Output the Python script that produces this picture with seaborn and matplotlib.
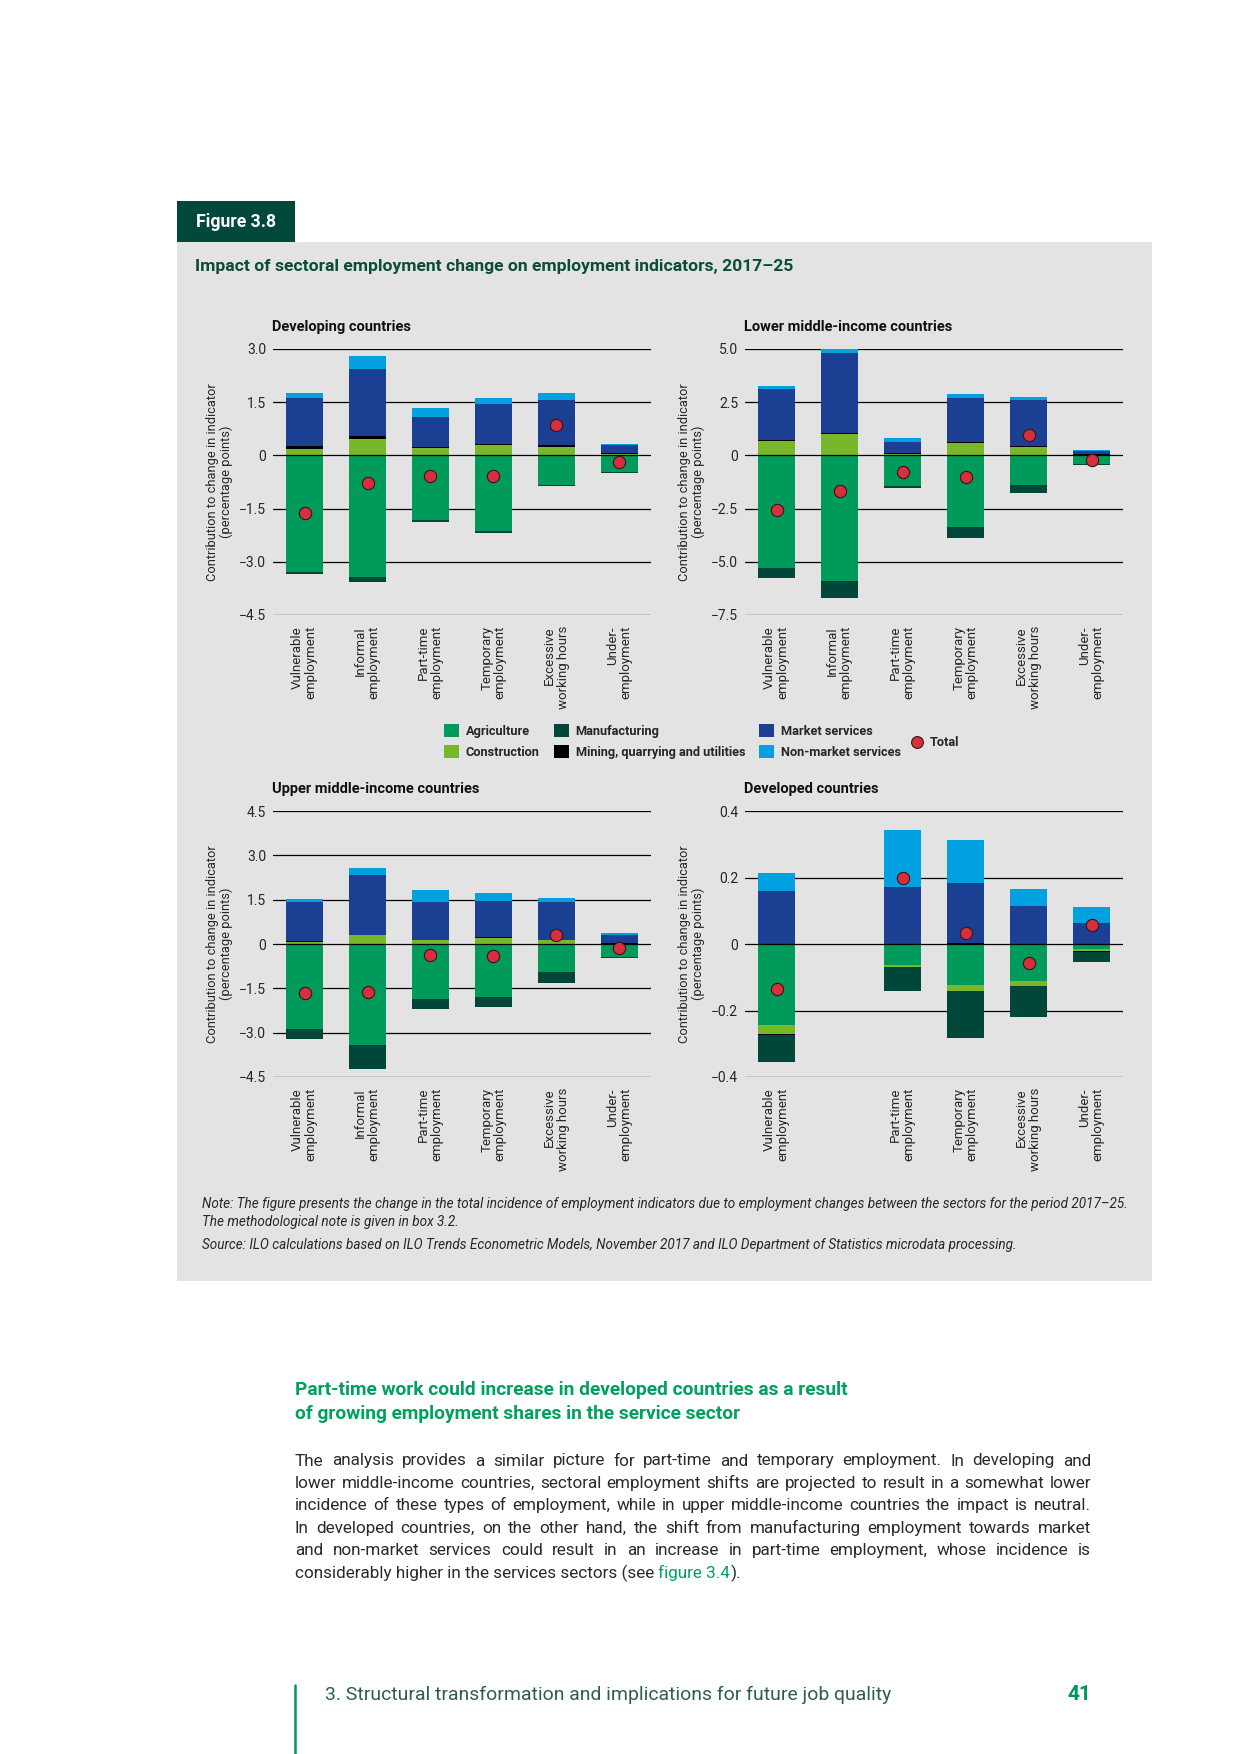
import numpy as np
import matplotlib
matplotlib.use("Agg")
import matplotlib.pyplot as plt
import seaborn as sns
from matplotlib import font_manager
from matplotlib.patches import Rectangle, Patch
from matplotlib.lines import Line2D

W, H = 1240, 1754
nan = np.nan

# ---------------- data ----------------
categories = ["Vulnerable\nemployment", "Informal\nemployment", "Part-time\nemployment",
              "Temporary\nemployment", "Excessive\nworking hours", "Under-\nemployment"]
categories_developed = ["Vulnerable\nemployment", "", "Part-time\nemployment",
                        "Temporary\nemployment", "Excessive\nworking hours", "Under-\nemployment"]
sector_names = ["Agriculture", "Construction", "Mining, quarrying and utilities",
                "Manufacturing", "Market services", "Non-market services"]

dev_agri = [-3.28, -3.44, -1.82, -2.13, -0.84, -0.47]
dev_cons = [0.18, 0.47, 0.22, 0.29, 0.245, 0.035]
dev_mine = [0.085, 0.075, 0.02, 0.045, 0.045, 0.02]
dev_manu = [-0.065, -0.12, -0.055, -0.055, -0.03, -0.02]
dev_mkt = [1.35, 1.89, 0.85, 1.11, 1.27, 0.235]
dev_nmkt = [0.14, 0.37, 0.25, 0.17, 0.20, 0.03]
dev_total = [-1.62, -0.79, -0.57, -0.57, 0.855, -0.19]

lmi_agri = [-5.27, -5.88, -1.45, -3.38, -1.40, -0.42]
lmi_cons = [0.69, 1.02, 0.08, 0.60, 0.41, 0.02]
lmi_mine = [0.02, 0.02, 0.03, 0.02, 0.03, 0.05]
lmi_manu = [-0.50, -0.83, -0.08, -0.50, -0.36, -0.03]
lmi_mkt = [2.42, 3.76, 0.52, 2.08, 2.14, 0.13]
lmi_nmkt = [0.14, 0.22, 0.19, 0.19, 0.17, 0.05]
lmi_total = [-2.56, -1.68, -0.77, -1.00, 0.96, -0.22]

umi_agri = [-2.89, -3.43, -1.85, -1.78, -0.95, -0.43]
umi_cons = [0.08, 0.29, 0.12, 0.21, 0.12, 0.01]
umi_mine = [0.03, 0.02, 0.02, 0.02, 0.02, 0.01]
umi_manu = [-0.33, -0.80, -0.36, -0.36, -0.36, -0.06]
umi_mkt = [1.32, 2.03, 1.28, 1.23, 1.28, 0.27]
umi_nmkt = [0.10, 0.24, 0.41, 0.27, 0.14, 0.07]
umi_total = [-1.67, -1.61, -0.36, -0.39, 0.29, -0.12]

dvd_agri = [-0.243, nan, -0.062, -0.122, -0.110, -0.016]
dvd_cons = [-0.027, nan, -0.006, -0.018, -0.015, -0.004]
dvd_mine = [-0.003, nan, 0.0, 0.004, 0.0, -0.003]
dvd_manu = [-0.081, nan, -0.072, -0.144, -0.096, -0.030]
dvd_mkt = [0.158, nan, 0.170, 0.178, 0.115, 0.064]
dvd_nmkt = [0.057, nan, 0.172, 0.132, 0.051, 0.048]
dvd_total = [-0.136, nan, 0.199, 0.032, -0.057, 0.058]

dev_ticks = [3.0, 1.5, 0, -1.5, -3.0, -4.5]
dev_ticklabels = ["3.0", "1.5", "0", "\u22121.5", "\u22123.0", "\u22124.5"]
lmi_ticks = [5.0, 2.5, 0, -2.5, -5.0, -7.5]
lmi_ticklabels = ["5.0", "2.5", "0", "\u22122.5", "\u22125.0", "\u22127.5"]
umi_ticks = [4.5, 3.0, 1.5, 0, -1.5, -3.0, -4.5]
umi_ticklabels = ["4.5", "3.0", "1.5", "0", "\u22121.5", "\u22123.0", "\u22124.5"]
dvd_ticks = [0.4, 0.2, 0, -0.2, -0.4]
dvd_ticklabels = ["0.4", "0.2", "0", "\u22120.2", "\u22120.4"]

# ---------------- style ----------------
sns.set_theme(style="white")
names = {f.name for f in font_manager.fontManager.ttflist}
COND = "Liberation Sans Narrow" if "Liberation Sans Narrow" in names else "Roboto"
FAM = [COND, "DejaVu Sans"]
plt.rcParams['font.family'] = ["Roboto", "DejaVu Sans"]

C_AGRI = "#009A5B"
C_CONS = "#78B72A"
C_MINE = "#000000"
C_MANU = "#00473A"
C_MKT = "#1A3F93"
C_NMKT = "#00A0E1"
C_TOT = "#D62F3F"
sector_colors = [C_AGRI, C_CONS, C_MINE, C_MANU, C_MKT, C_NMKT]
PANEL = "#E2E3E2"
DKGREEN = "#00493A"
TXT = "#262626"

fig = plt.figure(figsize=(W / 100, H / 100), dpi=100)
fig.patch.set_facecolor("white")
renderer = fig.canvas.get_renderer()


def fx(x):
    return x / W


def fy(y):
    return 1 - y / H


def width_of(s, **kw):
    t = fig.text(0, 0, s, **kw)
    w = t.get_window_extent(renderer).width
    t.remove()
    return w


def fit_size(s, target, maxsize, **kw):
    kw = dict(kw)
    kw["fontsize"] = 10
    w = width_of(s, **kw)
    return min(maxsize, 10 * target / w)


def fitted_text(x, y, s, target, maxsize, **kw):
    size = fit_size(s, target, maxsize, **kw)
    return fig.text(fx(x), fy(y), s, fontsize=size, **kw)


# panel background and figure tag
fig.add_artist(Rectangle((fx(177), fy(1281)), fx(1152) - fx(177), fy(242) - fy(1281),
                         transform=fig.transFigure, facecolor=PANEL, edgecolor="none", zorder=0))
fig.add_artist(Rectangle((fx(177), fy(242)), fx(295) - fx(177), fy(201) - fy(242),
                         transform=fig.transFigure, facecolor=DKGREEN, edgecolor="none", zorder=0))
fitted_text(196, 222, "Figure 3.8", 80, 14, color="white", fontweight="bold",
            family=FAM, va="center", ha="left")
fitted_text(195, 266, "Impact of sectoral employment change on employment indicators, 2017\u201325",
            598, 14, color="#0B4C3C", fontweight="bold", family=FAM, va="center", ha="left")


def panel(left, top, title, cats, series, total, ticks, ticklabels, ylim):
    ax = fig.add_axes([fx(left), fy(top + 266), 378 / W, 266 / H])
    ax.set_facecolor("none")
    for s in ax.spines.values():
        s.set_visible(False)
    x = np.arange(len(cats))
    pos = np.zeros(len(cats))
    neg = np.zeros(len(cats))
    for vals, col in zip(series, sector_colors):
        v0 = np.nan_to_num(np.array(vals, dtype=float))
        bottoms = np.where(v0 >= 0, pos, neg)
        ax.bar(x, v0, width=0.59, bottom=bottoms, color=col, linewidth=0, zorder=2)
        pos = pos + np.where(v0 > 0, v0, 0)
        neg = neg + np.where(v0 < 0, v0, 0)
    for t in ticks:
        ax.axhline(t, color="black", lw=0.9, zorder=1 if t != 0 else 3)
    sns.scatterplot(x=x, y=np.array(total, dtype=float), ax=ax, s=78, color=C_TOT,
                    edgecolor="#3A1414", linewidth=0.8, zorder=5, legend=False)
    ax.set_xlim(-0.5, len(cats) - 0.5)
    ax.set_ylim(*ylim)
    ax.set_yticks(ticks)
    ax.set_yticklabels(ticklabels, fontsize=10, fontweight="normal", color=TXT)
    ax.set_xticks(x)
    ax.set_xticklabels(cats, rotation=90, ha="center", va="top", multialignment="right",
                       fontsize=9.5, fontweight="normal", color=TXT, linespacing=1.05)
    ax.tick_params(axis="both", length=0)
    ax.tick_params(axis="y", pad=5)
    ax.tick_params(axis="x", pad=8)
    ax.set_ylabel("Contribution to change in indicator\n(percentage points)", fontsize=9.3,
                  fontweight="normal", color=TXT, linespacing=1.1)
    ax.yaxis.set_label_coords(-40 / 378, 0.5)
    ax.grid(False)
    fig.text(fx(left - 1), fy(top - 22), title, fontsize=10.5, fontweight="bold",
             family=FAM, color="#111111", va="center", ha="left")
    return ax


panel(273, 349, "Developing countries", categories,
      [dev_agri, dev_cons, dev_mine, dev_manu, dev_mkt, dev_nmkt], dev_total,
      dev_ticks, dev_ticklabels, (-4.5, 3.0))
panel(745, 349, "Lower middle-income countries", categories,
      [lmi_agri, lmi_cons, lmi_mine, lmi_manu, lmi_mkt, lmi_nmkt], lmi_total,
      lmi_ticks, lmi_ticklabels, (-7.5, 5.0))
panel(273, 811, "Upper middle-income countries", categories,
      [umi_agri, umi_cons, umi_mine, umi_manu, umi_mkt, umi_nmkt], umi_total,
      umi_ticks, umi_ticklabels, (-4.5, 4.5))
panel(745, 811, "Developed countries", categories_developed,
      [dvd_agri, dvd_cons, dvd_mine, dvd_manu, dvd_mkt, dvd_nmkt], dvd_total,
      dvd_ticks, dvd_ticklabels, (-0.4, 0.4))

# ---------------- legend ----------------
legend_order = [0, 1, 3, 2, 4, 5]
handles = [Patch(facecolor=sector_colors[i], edgecolor="none") for i in legend_order]
labels = [sector_names[i] for i in legend_order]
leg_size = fit_size("Mining, quarrying and utilities", 172, 10.5, family=FAM, fontweight="bold")
leg_font = {"family": FAM, "weight": "bold", "size": leg_size}
leg = fig.legend(handles, labels, ncol=3, loc="upper left",
                 bbox_to_anchor=(fx(444), fy(724)), frameon=False, prop=leg_font,
                 handlelength=1.2, handleheight=1.2, handletextpad=0.5, columnspacing=1.1,
                 labelspacing=0.55, borderpad=0, borderaxespad=0)
fig.draw_without_rendering()
bb = leg.get_window_extent(renderer)
tot_x = max(870, bb.x1 + 10)
tot_handle = Line2D([], [], marker="o", linestyle="", markerfacecolor=C_TOT,
                    markeredgecolor="#3A1414", markeredgewidth=0.8, markersize=8.5)
fig.legend([tot_handle], ["Total"], loc="center left", bbox_to_anchor=(fx(tot_x), fy(743)),
           frameon=False, prop=leg_font, handlelength=1.0, handletextpad=0.5,
           borderpad=0, borderaxespad=0)

# ---------------- notes ----------------
note_kw = dict(family=FAM, style="italic", color=TXT, va="center", ha="left")
note1 = ("Note: The figure presents the change in the total incidence of employment "
         "indicators due to employment changes between the sectors for the period 2017\u201325.")
note_size = fit_size(note1, 922, 11, **note_kw)
fig.text(fx(202), fy(1204), note1, fontsize=note_size, **note_kw)
fig.text(fx(202), fy(1222), "The methodological note is given in box 3.2.", fontsize=note_size, **note_kw)
fig.text(fx(202), fy(1245), "Source: ILO calculations based on ILO Trends Econometric Models, November 2017 "
         "and ILO Department of Statistics microdata processing.", fontsize=note_size, **note_kw)

# ---------------- page text ----------------
head_kw = dict(family=FAM, fontweight="bold", color="#00A05E", va="center", ha="left")
head1 = "Part-time work could increase in developed countries as a result"
head_size = fit_size(head1, 553, 15, **head_kw)
fig.text(fx(295), fy(1390), head1, fontsize=head_size, **head_kw)
fig.text(fx(295), fy(1414), "of growing employment shares in the service sector", fontsize=head_size, **head_kw)

body_lines = [
    "The analysis provides a similar picture for part-time and temporary employment. In developing and",
    "lower middle-income countries, sectoral employment shifts are projected to result in a somewhat lower",
    "incidence of these types of employment, while in upper middle-income countries the impact is neutral.",
    "In developed countries, on the other hand, the shift from manufacturing employment towards market",
    "and non-market services could result in an increase in part-time employment, whose incidence is",
]
x0, x1 = 295, 1091
base_kw = dict(family=FAM, fontweight="normal", color="#2A2A2A", va="center", ha="left")
body_size = min(fit_size(l, (x1 - x0) * 0.985, 13.5, **base_kw) for l in body_lines)
body_kw = dict(base_kw, fontsize=body_size)
y = 1461
for line in body_lines:
    words = line.split(" ")
    ws = [width_of(w, **body_kw) for w in words]
    gap = (x1 - x0 - sum(ws)) / (len(words) - 1)
    xc = x0
    for w, wd in zip(words, ws):
        fig.text(fx(xc), fy(y), w, **body_kw)
        xc += wd + gap
    y += 22.4
space = width_of("a a", **body_kw) - 2 * width_of("a", **body_kw)
parts = [("considerably higher in the services sectors (see", "#2A2A2A"),
         ("figure 3.4", "#00A05E"), (").", "#2A2A2A")]
xc = x0
for i, (s, col) in enumerate(parts):
    kw = dict(body_kw)
    kw["color"] = col
    fig.text(fx(xc), fy(y), s, **kw)
    xc += width_of(s, **kw) + (space if i == 0 else 0)

# footer
fig.add_artist(Line2D([fx(295), fx(295)], [fy(1685), fy(1754)], transform=fig.transFigure,
                      color="#00965A", lw=1.8))
fitted_text(325, 1695, "3. Structural transformation and implications for future job quality", 566, 15,
            family=FAM, fontweight="normal", color="#2E5E50", va="center", ha="left")
fig.text(fx(1091), fy(1695), "41", family=FAM, fontsize=15, fontweight="bold",
         color="#00965A", va="center", ha="right")

fig.savefig("out.png", dpi=100, facecolor="white")
